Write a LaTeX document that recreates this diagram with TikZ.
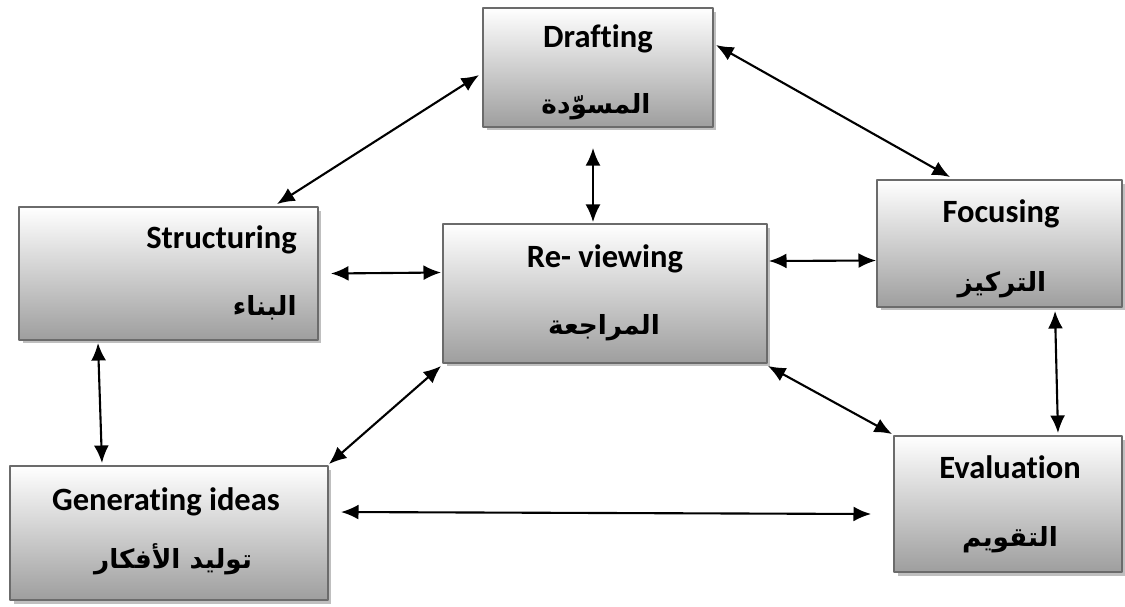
\documentclass[tikz,border=0pt]{standalone}
\usepackage{fontspec}
\setmainfont[Ligatures=NoCommon]{Carlito}
\newfontfamily\arabicfont[Script=Arabic]{DejaVu Sans}
\TeXXeTstate=1
\usepackage{tikz}
\usetikzlibrary{arrows.meta,shadows,calc}

\tikzset{
  stagebox/.style={draw=black!58, line width=1.1pt, top color=white, bottom color=black!38,
    drop shadow={fill=black!25, opacity=1, shadow xshift=0.07cm, shadow yshift=-0.07cm}},
  entitle/.style={anchor=base, inner sep=0pt, font=\fontsize{18.5}{22}\selectfont\bfseries},
  artitle/.style={anchor=base, inner sep=0pt, font=\fontsize{15}{18}\selectfont\arabicfont\bfseries},
  link/.style={{Latex[length=10pt,width=8.5pt]}-{Latex[length=10pt,width=8.5pt]}, line width=1.2pt, black}
}

\begin{document}
\begin{tikzpicture}
    [line join=round, x=0.02cm, y=-0.02cm]
\useasboundingbox (0,0) rectangle (1125,606);
%the six boxes
\node[stagebox, minimum width=4.6cm, minimum height=2.38cm] (draft) at (598,67.5) {};
\node[stagebox, minimum width=5.98cm, minimum height=2.66cm] (struct) at (168.5,273.5) {};
\node[stagebox, minimum width=6.48cm, minimum height=2.78cm] (review) at (605,293.5) {};
\node[stagebox, minimum width=4.9cm, minimum height=2.54cm] (focus) at (999.5,243.5) {};
\node[stagebox, minimum width=6.36cm, minimum height=2.68cm] (gen) at (169,533) {};
\node[stagebox, minimum width=4.56cm, minimum height=2.72cm] (eval) at (1008,504) {};

%titles
\node[entitle] (draften) at (598,47) {Drafting};
\node[artitle] (draftar) at (596,113) {\beginR المسوّدة\endR};
\node[entitle, anchor=base east] (structen) at (297,248) {Structuring};
\node[artitle, anchor=base east] (structar) at (297,315) {\beginR البناء\endR};
\node[entitle] (reviewen) at (605,267) {Re- viewing};
\node[artitle] (reviewar) at (604,334) {\beginR المراجعة\endR};
\node[entitle] (focusen) at (1001,222) {Focusing};
\node[artitle] (focusar) at (1002,291) {\beginR التركيز\endR};
\node[entitle] (genen) at (166,510) {Generating ideas};
\node[artitle] (genar) at (173,568) {\beginR توليد الأفكار\endR};
\node[entitle] (evalen) at (1010,478) {Evaluation};
\node[artitle] (evalar) at (1010,546) {\beginR التقويم\endR};

%double arrows
\draw[link] ($(draft.west)+(-3,7.5)$) -- ($(struct.north)+(108.5,-2)$);
\draw[link] ($(draft.east)+(2,-22.5)$) -- ($(focus.north)+(-49.5,-2)$);
\draw[link] ($(draft.south)+(-5,20)$) -- ($(review.north)+(-12,-1)$);
\draw[link] ($(struct.east)+(12,0)$) -- ($(review.west)+(-1,-21)$);
\draw[link] ($(review.east)+(1,-32.5)$) -- ($(focus.west)+(0,17)$);
\draw[link] ($(struct.south)+(-70.5,2)$) -- ($(gen.north)+(-67,-2)$);
\draw[link] ($(review.south west)+(-1,2)$) -- ($(gen.north east)+(0,-1)$);
\draw[link] ($(review.south east)+(0,2)$) -- ($(eval.north west)+(-1,-1)$);
\draw[link] ($(focus.south)+(55.5,3)$) -- ($(eval.north)+(50,-2)$);
\draw[link] ($(gen.east)+(12,-21)$) -- ($(eval.west)+(-22,10)$);
\end{tikzpicture}
\end{document}
